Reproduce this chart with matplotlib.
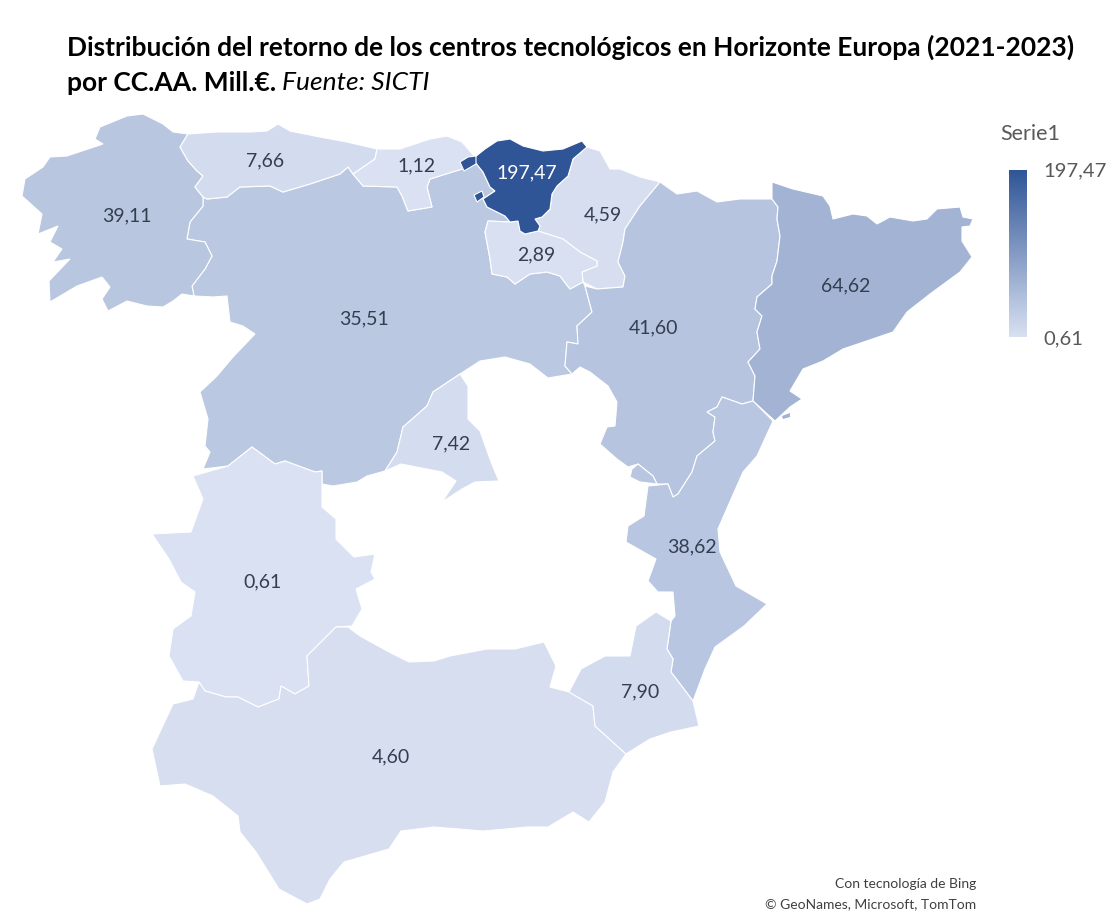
#!/usr/bin/env python3
import matplotlib
matplotlib.use("Agg")
import matplotlib.pyplot as plt
import numpy as np
from matplotlib.colors import LinearSegmentedColormap, Normalize
from matplotlib.patches import Polygon

plt.rcParams["font.family"] = ["Lato", "DejaVu Sans"]

# values per region, as printed on the map
REGIONS = ["Galicia", "Asturias", "Cantabria", "Euskadi", "Navarra", "La Rioja", "Aragon",
           "Cataluna", "Castilla y Leon", "Madrid", "Extremadura", "Valencia", "Murcia", "Andalucia"]
VALUES = [39.11, 7.66, 1.12, 197.47, 4.59, 2.89, 41.60, 64.62, 35.51, 7.42, 0.61, 38.62, 7.90, 4.60]
LABEL_X = [127, 265, 417, 527, 603, 536, 654, 846, 364, 451, 262, 692, 640, 391]
LABEL_Y = [216, 161, 166, 173, 215, 255, 328, 286, 319, 444, 582, 547, 692, 757]

VMIN = 0.61
VMAX = 197.47
LOW_COLOR = "#d9e1f2"
HIGH_COLOR = "#2f5597"

# region outlines, in image pixels
GALICIA = [(188, 135), (180, 148), (188, 162), (197, 172), (203, 177), (195, 188), (203, 198), (203, 207),
           (190, 223), (187, 240), (205, 243), (212, 257), (205, 270), (192, 287), (194, 297), (182, 295),
           (173, 302), (163, 308), (147, 307), (127, 302), (108, 312), (102, 300), (110, 288), (102, 278),
           (77, 287), (50, 303), (49, 282), (70, 260), (53, 263), (62, 250), (50, 243), (58, 227), (38, 235),
           (42, 215), (22, 197), (25, 180), (43, 168), (50, 158), (67, 157), (103, 145), (95, 140), (100, 128),
           (127, 117), (143, 115), (163, 125), (173, 133)]
ASTURIAS = [(188, 135), (217, 133), (250, 133), (267, 132), (278, 125), (290, 132), (320, 138), (347, 143),
            (377, 150), (375, 160), (353, 175), (348, 168), (340, 175), (310, 185), (283, 193), (270, 187),
            (240, 188), (227, 198), (207, 200), (203, 198), (195, 188), (203, 177), (197, 172), (188, 162),
            (180, 148)]
CANTABRIA = [(377, 150), (400, 150), (430, 140), (447, 137), (462, 143), (475, 158), (475, 163), (462, 170),
             (430, 180), (427, 188), (432, 208), (408, 212), (402, 197), (397, 188), (363, 187), (353, 175),
             (375, 160)]
EUSKADI = [(475, 158), (485, 150), (497, 142), (510, 140), (523, 147), (543, 152), (563, 150), (582, 142),
           (587, 148), (573, 160), (568, 177), (557, 187), (552, 195), (550, 210), (542, 218), (535, 220),
           (540, 227), (538, 232), (525, 235), (520, 232), (518, 222), (510, 223), (505, 217), (487, 208),
           (483, 200), (495, 192), (490, 188), (483, 173), (475, 163)]
EUSKADI_ISLE_1 = [(460, 163), (468, 158), (476, 157), (476, 165), (464, 172)]
EUSKADI_ISLE_2 = [(474, 196), (482, 192), (484, 198), (477, 203)]
TREVINO = [(505, 207), (518, 205), (530, 213), (523, 217), (512, 215)]
NAVARRA = [(587, 148), (600, 152), (610, 170), (620, 170), (640, 178), (660, 183), (640, 207), (625, 230),
           (623, 243), (618, 263), (625, 277), (623, 288), (597, 290), (583, 283), (582, 273), (597, 267),
           (597, 262), (580, 253), (563, 240), (538, 232), (540, 227), (535, 220), (542, 218), (550, 210),
           (552, 195), (557, 187), (568, 177), (573, 160)]
RIOJA = [(488, 222), (510, 223), (518, 222), (520, 232), (525, 235), (538, 232), (563, 240), (580, 253),
         (597, 262), (597, 267), (582, 273), (583, 283), (570, 290), (560, 277), (547, 273), (530, 275),
         (515, 285), (507, 278), (492, 275), (490, 260), (485, 233)]
ARAGON = [(660, 183), (677, 195), (697, 192), (717, 203), (740, 200), (772, 200), (778, 208), (777, 220),
          (780, 237), (777, 262), (772, 277), (772, 285), (757, 298), (755, 310), (762, 317), (757, 333),
          (760, 350), (748, 363), (755, 377), (753, 402), (742, 405), (722, 398), (717, 408), (707, 413),
          (715, 418), (713, 433), (715, 442), (697, 457), (692, 473), (678, 495), (673, 498), (668, 485),
          (657, 485), (653, 477), (638, 465), (628, 468), (617, 460), (600, 445), (607, 428), (615, 427),
          (617, 403), (608, 387), (590, 373), (580, 368), (572, 375), (565, 367), (567, 343), (578, 345),
          (577, 327), (592, 313), (585, 287), (597, 290), (623, 288), (625, 277), (618, 263), (623, 243),
          (625, 230), (640, 207)]
PETILLA = [(633, 238), (640, 230), (643, 235), (638, 238)]
CATALUNA = [(772, 183), (793, 190), (823, 197), (830, 207), (833, 220), (853, 215), (867, 217), (877, 225),
            (890, 218), (913, 222), (927, 220), (937, 210), (960, 208), (963, 218), (973, 220), (970, 227),
            (962, 228), (962, 242), (972, 258), (960, 273), (930, 295), (907, 313), (893, 333), (843, 350),
            (823, 362), (803, 370), (790, 392), (802, 400), (790, 408), (775, 422), (753, 402), (755, 377),
            (748, 363), (760, 350), (757, 333), (762, 317), (755, 310), (757, 298), (772, 285), (772, 277),
            (777, 262), (780, 237), (777, 220), (778, 208), (772, 200)]
CASTILLA_LEON = [(207, 200), (227, 198), (240, 188), (270, 187), (283, 193), (310, 185), (340, 175), (348, 168),
                 (353, 175), (363, 187), (397, 188), (402, 197), (408, 212), (432, 208), (427, 188), (430, 180),
                 (462, 170), (475, 163), (483, 173), (490, 188), (495, 192), (483, 200), (487, 208), (505, 217),
                 (510, 223), (488, 222), (485, 233), (490, 260), (492, 275), (507, 278), (515, 285), (530, 275),
                 (547, 273), (560, 277), (570, 290), (583, 283), (585, 287), (592, 313), (577, 327), (578, 345),
                 (567, 343), (565, 367), (572, 375), (560, 377), (548, 379), (530, 365), (505, 358), (480, 362),
                 (460, 375), (433, 393), (427, 407), (403, 428), (397, 453), (385, 472), (367, 477), (357, 483),
                 (333, 487), (322, 485), (322, 472), (315, 473), (285, 462), (275, 465), (252, 448), (228, 467),
                 (203, 470), (210, 453), (205, 447), (208, 420), (200, 393), (217, 377), (233, 358), (255, 335),
                 (243, 327), (230, 323), (227, 297), (213, 298), (194, 297), (192, 287), (205, 270), (212, 257),
                 (205, 243), (187, 240), (190, 223), (203, 207), (203, 198)]
MADRID = [(460, 375), (468, 387), (468, 420), (480, 432), (491, 463), (499, 482), (475, 483), (462, 490),
          (442, 503), (456, 482), (442, 473), (401, 465), (385, 472), (397, 453), (403, 428), (427, 407),
          (433, 393)]
EXTREMADURA = [(252, 448), (275, 465), (285, 462), (315, 473), (322, 472), (322, 508), (336, 520), (336, 540),
               (354, 558), (375, 555), (371, 573), (375, 580), (356, 590), (362, 610), (352, 627), (336, 628),
               (307, 657), (309, 687), (295, 695), (281, 687), (279, 700), (258, 708), (238, 698), (226, 698),
               (205, 692), (199, 683), (183, 682), (169, 657), (173, 630), (191, 617), (195, 593), (181, 583),
               (169, 560), (152, 535), (191, 533), (203, 500), (193, 477), (228, 467)]
ANDALUCIA = [(336, 628), (348, 628), (360, 637), (389, 653), (409, 663), (434, 662), (450, 657), (487, 650),
             (515, 650), (544, 643), (556, 667), (550, 688), (569, 693), (593, 707), (595, 727), (626, 755),
             (613, 773), (605, 803), (589, 823), (573, 813), (548, 828), (528, 828), (483, 832), (434, 828),
             (401, 832), (389, 850), (344, 863), (330, 880), (320, 900), (307, 905), (279, 890), (256, 853),
             (240, 833), (238, 817), (213, 797), (185, 785), (160, 787), (152, 750), (173, 705), (193, 700),
             (199, 683), (205, 692), (226, 698), (238, 698), (258, 708), (279, 700), (281, 687), (295, 695),
             (309, 687), (307, 657)]
VALENCIA = [(722, 398), (742, 405), (753, 402), (773, 422), (757, 457), (743, 473), (728, 507), (718, 530),
            (720, 553), (736, 587), (767, 605), (744, 627), (715, 648), (705, 670), (693, 702), (671, 673),
            (673, 660), (667, 650), (671, 622), (675, 617), (673, 593), (658, 593), (648, 582), (656, 560),
            (626, 543), (628, 527), (644, 517), (648, 487), (668, 485), (673, 498), (678, 495),
            (692, 473), (697, 457), (715, 442), (713, 433), (715, 418), (707, 413), (717, 408)]
ADEMUZ = [(632, 470), (638, 465), (653, 477), (657, 485), (640, 483), (630, 478)]
MURCIA = [(569, 693), (581, 670), (605, 657), (630, 657), (636, 627), (656, 613), (671, 622), (667, 650),
          (673, 660), (671, 673), (693, 702), (699, 727), (671, 733), (650, 740), (626, 755), (595, 727), (593, 707)]

OUTLINES = {
    "Galicia": [GALICIA],
    "Asturias": [ASTURIAS],
    "Cantabria": [CANTABRIA],
    "Euskadi": [EUSKADI, EUSKADI_ISLE_1, EUSKADI_ISLE_2],
    "Navarra": [NAVARRA, PETILLA],
    "La Rioja": [RIOJA],
    "Aragon": [ARAGON],
    "Cataluna": [CATALUNA],
    "Castilla y Leon": [CASTILLA_LEON, TREVINO],
    "Madrid": [MADRID],
    "Extremadura": [EXTREMADURA],
    "Valencia": [VALENCIA, ADEMUZ],
    "Murcia": [MURCIA],
    "Andalucia": [ANDALUCIA],
}
DRAW_ORDER = ["Castilla y Leon", "Galicia", "Asturias", "Cantabria", "Navarra", "La Rioja", "Aragon", "Cataluna",
              "Madrid", "Extremadura", "Andalucia", "Valencia", "Murcia", "Euskadi"]


def fmt(value):
    return f"{value:.2f}".replace(".", ",")


def main():
    cmap = LinearSegmentedColormap.from_list("serie1", [LOW_COLOR, HIGH_COLOR])
    norm = Normalize(VMIN, VMAX)

    fig = plt.figure(figsize=(11.2, 9.2), dpi=100)
    ax = fig.add_axes([0, 0, 1, 1])
    ax.set_xlim(0, 1120)
    ax.set_ylim(920, 0)
    ax.axis("off")

    for name in DRAW_ORDER:
        color = cmap(norm(VALUES[REGIONS.index(name)]))
        for outline in OUTLINES[name]:
            ax.add_patch(Polygon(outline, closed=True, facecolor=color, edgecolor="white", linewidth=0.8))
    # small Ebro delta piece
    ax.add_patch(Polygon([(782, 417), (790, 414), (790, 418), (783, 420)], closed=True,
                         facecolor=cmap(norm(VALUES[REGIONS.index("Cataluna")])), edgecolor="none"))

    for name, value, x, y in zip(REGIONS, VALUES, LABEL_X, LABEL_Y):
        color = "white" if value > 100 else "#333f50"
        ax.text(x, y, fmt(value), fontsize=14, color=color, ha="center", va="center")

    renderer = fig.canvas.get_renderer()
    ax.text(67, 47, "Distribución del retorno de los centros tecnológicos en Horizonte Europa (2021-2023)",
            fontsize=19, fontweight="bold", color="black", ha="left", va="center")
    part = ax.text(67, 83, "por CC.AA. Mill.€.", fontsize=19, fontweight="bold", color="black",
                   ha="left", va="center")
    box = part.get_window_extent(renderer)
    ax.text(box.x1 + 6, 83, "Fuente: SICTI", fontsize=19, fontstyle="italic", color="black",
            ha="left", va="center")

    # colour scale
    cax = fig.add_axes([1009 / 1120, 1 - 338 / 920, 18 / 1120, 167 / 920])
    cax.imshow(np.linspace(VMAX, VMIN, 256).reshape(-1, 1), aspect="auto", cmap=cmap, norm=norm)
    cax.axis("off")
    ax.text(1000, 134, "Serie1", fontsize=15.5, color="#595959", ha="left", va="center")
    ax.text(1043, 171, fmt(VMAX), fontsize=14.6, color="#595959", ha="left", va="center")
    ax.text(1043, 339, fmt(VMIN), fontsize=14.6, color="#595959", ha="left", va="center")

    ax.text(976, 884, "Con tecnología de Bing", fontsize=10, color="#404040", ha="right", va="center")
    ax.text(976, 904, "© GeoNames, Microsoft, TomTom", fontsize=10, color="#404040", ha="right", va="center")

    fig.savefig("out.png", dpi=100)
    plt.close(fig)


if __name__ == "__main__":
    main()
